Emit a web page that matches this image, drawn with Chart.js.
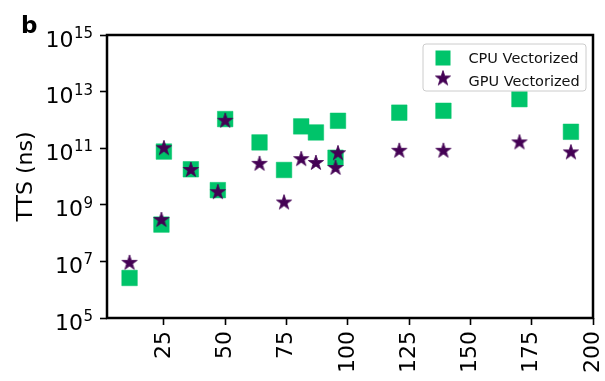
<!DOCTYPE html>
<html>
<head>
<meta charset="utf-8">
<script src="https://cdn.jsdelivr.net/npm/chart.js@4.4.1/dist/chart.umd.min.js"></script>
<style>
  html, body { margin: 0; padding: 0; background: #fff; }
  canvas { display: block; }
</style>
</head>
<body>
<canvas id="chart" width="605" height="381"></canvas>
<script>
// Problem sizes shared by both implementations
const sizes = [11, 24, 25, 36, 47, 50, 64, 74, 81, 87, 95, 96, 121, 139, 170, 191];
// Time-to-solution in nanoseconds
const cpuTTS = [2.6e6, 2.0e8, 7.6e10, 1.8e10, 3.3e9, 1.07e12, 1.6e11, 1.7e10, 5.9e11, 3.6e11, 4.6e10, 9.3e11, 1.8e12, 2.1e12, 5.4e12, 3.8e11];
const gpuTTS = [8.9e6, 2.9e8, 1.0e11, 1.7e10, 2.8e9, 9.3e11, 2.8e10, 1.2e9, 4.1e10, 3.0e10, 2.0e10, 6.6e10, 8.1e10, 8.1e10, 1.6e11, 7.1e10];

const xTickValues = [25, 50, 75, 100, 125, 150, 175, 200];
const yTickExponents = [5, 7, 9, 11, 13, 15];
const seriesNames = ['CPU Vectorized', 'GPU Vectorized'];
const yTitle = 'TTS (ns)';
const panelLabel = 'b';

const CPU_COLOR = '#00c46a';
const GPU_COLOR = '#440154';
const FONT = "'DejaVu Sans', sans-serif";

// Filled five-pointed star used as the GPU marker
function makeStar(outer, color) {
  const size = Math.ceil(outer * 2 + 4);
  const c = document.createElement('canvas');
  c.width = size; c.height = size;
  const g = c.getContext('2d');
  const cx = size / 2, cy = size / 2, inner = outer * 0.382;
  g.beginPath();
  for (let i = 0; i < 10; i++) {
    const ang = -Math.PI / 2 + i * Math.PI / 5;
    const r = i % 2 ? inner : outer;
    const px = cx + r * Math.cos(ang), py = cy + r * Math.sin(ang);
    i ? g.lineTo(px, py) : g.moveTo(px, py);
  }
  g.closePath();
  g.fillStyle = color; g.fill();
  g.lineWidth = 0.8; g.strokeStyle = color; g.lineJoin = 'miter'; g.stroke();
  return c;
}
const starImg = makeStar(8, GPU_COLOR);

const toPoints = vals => vals.map((v, i) => ({ x: sizes[i], y: v }));

// Frame, superscripted y tick labels, panel letter and boxed legend
const decorations = {
  id: 'decorations',
  afterDraw(chart) {
    const { ctx, chartArea: a, scales: { y } } = chart;
    ctx.save();
    ctx.strokeStyle = '#000';
    ctx.lineWidth = 2.5;
    ctx.strokeRect(a.left, a.top, a.right - a.left, a.bottom - a.top);

    ctx.fillStyle = '#000';
    ctx.textBaseline = 'alphabetic';
    ctx.textAlign = 'right';
    const labelRight = a.left - 14;
    y.ticks.forEach(t => {
      const py = y.getPixelForValue(t.value);
      const exp = String(Math.round(Math.log10(t.value)));
      ctx.font = `15px ${FONT}`;
      const we = ctx.measureText(exp).width;
      ctx.fillText(exp, labelRight, py + 3);
      ctx.font = `22px ${FONT}`;
      ctx.fillText('10', labelRight - we - 0.5, py + 11.5);
    });

    ctx.font = `bold 23px ${FONT}`;
    ctx.textAlign = 'left';
    ctx.fillText(panelLabel, 21, 33);

    // legend box
    const bx = 423, by = 44, bw = 163, bh = 47;
    ctx.beginPath();
    ctx.roundRect(bx, by, bw, bh, 3);
    ctx.fillStyle = 'rgba(255,255,255,0.8)';
    ctx.fill();
    ctx.lineWidth = 1;
    ctx.strokeStyle = '#cccccc';
    ctx.stroke();

    ctx.fillStyle = CPU_COLOR;
    ctx.fillRect(443 - 7.5, 58 - 7.5, 15, 15);
    ctx.drawImage(starImg, 443 - starImg.width / 2, 78.5 - starImg.height / 2);
    ctx.font = `14.5px ${FONT}`;
    ctx.textBaseline = 'alphabetic';
    ctx.fillStyle = '#111';
    ctx.fillText(seriesNames[0], 468.5, 62.5);
    ctx.fillText(seriesNames[1], 468.5, 85.8);
    ctx.restore();
  }
};

new Chart(document.getElementById('chart'), {
  type: 'scatter',
  data: {
    datasets: [
      {
        label: seriesNames[0],
        data: toPoints(cpuTTS),
        pointStyle: 'rect',
        pointRadius: 11,
        pointHoverRadius: 11,
        backgroundColor: CPU_COLOR,
        borderColor: CPU_COLOR,
        borderWidth: 0.5,
        order: 2
      },
      {
        label: seriesNames[1],
        data: toPoints(gpuTTS),
        pointStyle: starImg,
        pointRadius: 8,
        backgroundColor: GPU_COLOR,
        borderColor: GPU_COLOR,
        order: 1
      }
    ]
  },
  options: {
    responsive: false,
    animation: false,
    events: [],
    layout: { padding: { left: 0, right: 12, top: 35, bottom: 0 } },
    plugins: { legend: { display: false }, tooltip: { enabled: false } },
    scales: {
      x: {
        type: 'linear',
        min: 1.8,
        max: 200,
        afterBuildTicks: s => { s.ticks = xTickValues.map(v => ({ value: v })); },
        afterFit: s => { s.height = 63; s.paddingLeft = 0; s.paddingRight = 0; },
        border: { display: false },
        grid: { display: true, drawOnChartArea: false, drawTicks: true, tickLength: 7, tickWidth: 1.6, tickColor: '#000' },
        ticks: {
          autoSkip: false,
          minRotation: 90,
          maxRotation: 90,
          padding: 6,
          color: '#000',
          font: { family: FONT, size: 22 }
        }
      },
      y: {
        type: 'logarithmic',
        min: 1e5,
        max: 1e15,
        afterBuildTicks: s => { s.ticks = yTickExponents.map(e => ({ value: Math.pow(10, e) })); },
        afterFit: s => { s.width = 107; s.paddingTop = 0; s.paddingBottom = 0; },
        border: { display: false },
        grid: { display: true, drawOnChartArea: false, drawTicks: true, tickLength: 7, tickWidth: 1.6, tickColor: '#000' },
        ticks: { color: 'rgba(0,0,0,0)', font: { family: FONT, size: 22 }, callback: v => String(v) },
        title: {
          display: true,
          text: yTitle,
          color: '#000',
          font: { family: FONT, size: 22 },
          padding: { top: 13, bottom: 0 }
        }
      }
    }
  },
  plugins: [decorations]
});
</script>
</body>
</html>
